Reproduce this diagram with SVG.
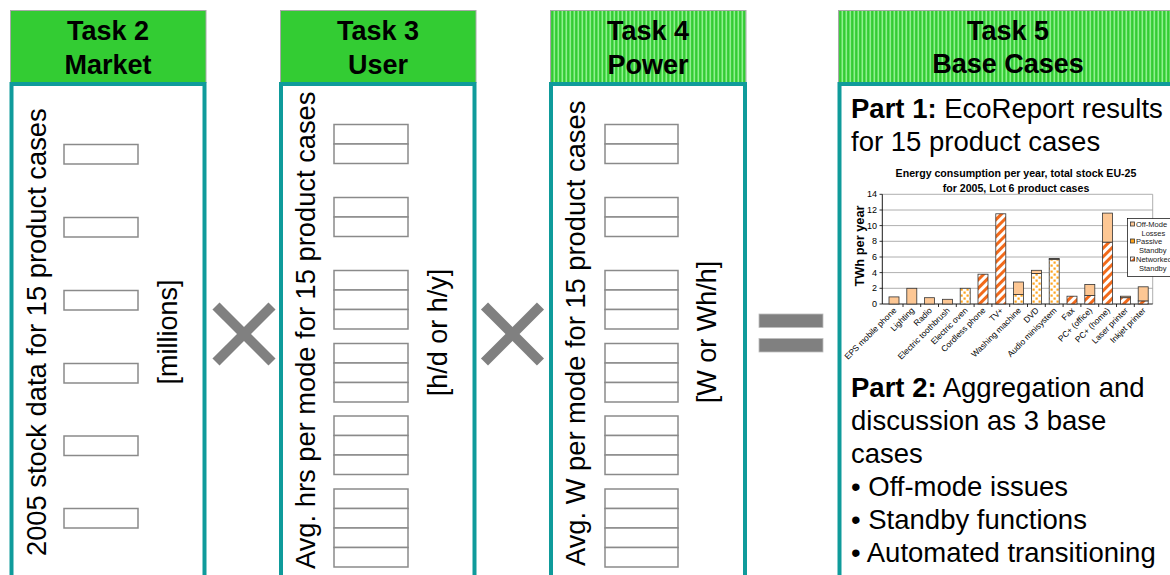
<svg xmlns="http://www.w3.org/2000/svg" width="1170" height="575" viewBox="0 0 1170 575">
<style>
.hdr{stroke:#a8a8a8;stroke-width:1}
.hsolid{fill:#33cc33}
.hstr{fill:url(#hstripe)}
.htxt{font-family:"Liberation Sans",Arial,sans-serif;font-weight:bold;font-size:27px;fill:#000;text-anchor:middle}
.body{fill:#fff;stroke:#0f9b9b;stroke-width:4}
.vtxt{font-family:"Liberation Sans",Arial,sans-serif;font-size:27.3px;fill:#000}
.unit{font-family:"Liberation Sans",Arial,sans-serif;font-size:27px;fill:#000;text-anchor:middle}
.cell{fill:#fff;stroke:#8a8a8a;stroke-width:1.5}
.op{stroke:#808080;stroke-width:10;fill:none}
.p5{font-family:"Liberation Sans",Arial,sans-serif;font-size:27.5px;fill:#000}
.ct{font-family:"Liberation Sans",Arial,sans-serif;font-size:10.6px;font-weight:bold;fill:#000;text-anchor:middle}
.ax{font-family:"Liberation Sans",Arial,sans-serif;font-size:9px;fill:#000;text-anchor:end}
.cat{font-family:"Liberation Sans",Arial,sans-serif;font-size:8.4px;fill:#000;text-anchor:end}
.lg{font-family:"Liberation Sans",Arial,sans-serif;font-size:7.5px;fill:#222}
.grid{stroke:#9a9a9a;stroke-width:0.8}
.bar{stroke:#333;stroke-width:0.8}
.off{fill:#fdc794}
.pas{fill:url(#dots)}
.net{fill:url(#stripe)}
</style>
<defs>
<pattern id="hstripe" width="4" height="10" patternUnits="userSpaceOnUse"><rect width="4" height="10" fill="#33cc33"/><rect x="1.5" width="1.6" height="10" fill="#8ff08f"/></pattern>
<pattern id="stripe" width="6" height="6" patternUnits="userSpaceOnUse" patternTransform="rotate(45)"><rect width="6" height="6" fill="#fff"/><rect width="3" height="6" fill="#f26a1b"/></pattern>
<pattern id="dots" width="6" height="6" patternUnits="userSpaceOnUse"><rect width="6" height="6" fill="#fff"/><rect x="0.5" y="0.5" width="2.2" height="2.2" fill="#ffa41c"/><rect x="3.5" y="3.5" width="2.2" height="2.2" fill="#ffa41c"/></pattern>
</defs>
<rect width="1170" height="575" fill="#fff"/>

<g id="task2">
<rect class="hdr hsolid" x="10.5" y="10.5" width="195.5" height="72"/>
<text class="htxt" x="108" y="40">Task 2</text>
<text class="htxt" x="108" y="74">Market</text>
<rect class="body" x="11.5" y="84" width="193" height="520"/>
<text class="vtxt" transform="translate(45.5,556) rotate(-90)" font-size="28.8">2005 stock data for 15 product cases</text>
<text class="unit" transform="translate(177,332) rotate(-90)">[millions]</text>
<rect class="cell" x="64" y="144.5" width="74" height="19.5"/>
<rect class="cell" x="64" y="217.5" width="74" height="19.5"/>
<rect class="cell" x="64" y="290.5" width="74" height="19.5"/>
<rect class="cell" x="64" y="363.5" width="74" height="19.5"/>
<rect class="cell" x="64" y="436" width="74" height="19.5"/>
<rect class="cell" x="64" y="508.5" width="74" height="19.5"/>
</g>

<g id="task3">
<rect class="hdr hsolid" x="280.5" y="10.5" width="195.5" height="72"/>
<text class="htxt" x="378" y="40">Task 3</text>
<text class="htxt" x="378" y="74">User</text>
<rect class="body" x="281" y="84" width="193.5" height="520"/>
<text class="vtxt" transform="translate(315,569) rotate(-90)">Avg. hrs per mode for 15 product cases</text>
<text class="unit" transform="translate(447,332.5) rotate(-90)">[h/d or h/y]</text>
<g>
<rect class="cell" x="334" y="124.5" width="74" height="19.5"/><rect class="cell" x="334" y="144" width="74" height="19.5"/>
<rect class="cell" x="334" y="197.5" width="74" height="19.5"/><rect class="cell" x="334" y="217" width="74" height="19.5"/>
<rect class="cell" x="334" y="270.5" width="74" height="19.5"/><rect class="cell" x="334" y="290" width="74" height="19.5"/><rect class="cell" x="334" y="309.5" width="74" height="19.5"/>
<rect class="cell" x="334" y="343.5" width="74" height="19.5"/><rect class="cell" x="334" y="363" width="74" height="19.5"/><rect class="cell" x="334" y="382.5" width="74" height="19.5"/>
<rect class="cell" x="334" y="416" width="74" height="19.5"/><rect class="cell" x="334" y="435.5" width="74" height="19.5"/><rect class="cell" x="334" y="455" width="74" height="19.5"/>
<rect class="cell" x="334" y="489" width="74" height="19.5"/><rect class="cell" x="334" y="508.5" width="74" height="19.5"/><rect class="cell" x="334" y="528" width="74" height="19.5"/><rect class="cell" x="334" y="547.5" width="74" height="19.5"/>
</g>
</g>

<g id="task4">
<rect class="hdr hstr" x="550.5" y="10.5" width="195.5" height="72"/>
<text class="htxt" x="648" y="40">Task 4</text>
<text class="htxt" x="648" y="74">Power</text>
<rect class="body" x="551" y="84" width="194" height="520"/>
<text class="vtxt" transform="translate(585,566) rotate(-90)" font-size="27.8">Avg. W per mode for 15 product cases</text>
<text class="unit" transform="translate(716,332) rotate(-90)">[W or Wh/h]</text>
<g>
<rect class="cell" x="605" y="124.5" width="73" height="19.5"/><rect class="cell" x="605" y="144" width="73" height="19.5"/>
<rect class="cell" x="605" y="197.5" width="73" height="19.5"/><rect class="cell" x="605" y="217" width="73" height="19.5"/>
<rect class="cell" x="605" y="270.5" width="73" height="19.5"/><rect class="cell" x="605" y="290" width="73" height="19.5"/><rect class="cell" x="605" y="309.5" width="73" height="19.5"/>
<rect class="cell" x="605" y="343.5" width="73" height="19.5"/><rect class="cell" x="605" y="363" width="73" height="19.5"/><rect class="cell" x="605" y="382.5" width="73" height="19.5"/>
<rect class="cell" x="605" y="416" width="73" height="19.5"/><rect class="cell" x="605" y="435.5" width="73" height="19.5"/><rect class="cell" x="605" y="455" width="73" height="19.5"/>
<rect class="cell" x="605" y="489" width="73" height="19.5"/><rect class="cell" x="605" y="508.5" width="73" height="19.5"/><rect class="cell" x="605" y="528" width="73" height="19.5"/><rect class="cell" x="605" y="547.5" width="73" height="19.5"/>
</g>
</g>

<g id="task5">
<rect class="hdr hstr" x="838.5" y="10.5" width="340" height="72"/>
<text class="htxt" x="1008" y="40">Task 5</text>
<text class="htxt" x="1008" y="73">Base Cases</text>
<rect class="body" x="839.5" y="84" width="340" height="520"/>
<text class="p5" x="851" y="118"><tspan font-weight="bold">Part 1:</tspan> EcoReport results</text>
<text class="p5" x="851" y="151">for 15 product cases</text>
<g id="chart">
<text class="ct" x="1016" y="177">Energy consumption per year, total stock EU-25</text>
<text class="ct" x="1016" y="192">for 2005, Lot 6 product cases</text>
<line class="grid" x1="882.3" y1="288.3" x2="1152.7" y2="288.3"/>
<line class="grid" x1="882.3" y1="272.6" x2="1152.7" y2="272.6"/>
<line class="grid" x1="882.3" y1="257" x2="1152.7" y2="257"/>
<line class="grid" x1="882.3" y1="241.3" x2="1152.7" y2="241.3"/>
<line class="grid" x1="882.3" y1="225.6" x2="1152.7" y2="225.6"/>
<line class="grid" x1="882.3" y1="210" x2="1152.7" y2="210"/>
<line class="grid" x1="882.3" y1="194.3" x2="1152.7" y2="194.3"/>
<line class="grid" x1="1152.7" y1="194.3" x2="1152.7" y2="304"/>
<line x1="882.3" y1="194.3" x2="882.3" y2="304" stroke="#000" stroke-width="0.9"/>
<line x1="882.3" y1="304" x2="1152.7" y2="304" stroke="#000" stroke-width="0.9"/>
<g stroke="#000" stroke-width="0.8">
<line x1="879.5" y1="304" x2="882.3" y2="304"/><line x1="879.5" y1="288.3" x2="882.3" y2="288.3"/><line x1="879.5" y1="272.6" x2="882.3" y2="272.6"/><line x1="879.5" y1="257" x2="882.3" y2="257"/><line x1="879.5" y1="241.3" x2="882.3" y2="241.3"/><line x1="879.5" y1="225.6" x2="882.3" y2="225.6"/><line x1="879.5" y1="210" x2="882.3" y2="210"/><line x1="879.5" y1="194.3" x2="882.3" y2="194.3"/>
<line x1="903" y1="304" x2="903" y2="307"/><line x1="920.7" y1="304" x2="920.7" y2="307"/><line x1="938.5" y1="304" x2="938.5" y2="307"/><line x1="956.3" y1="304" x2="956.3" y2="307"/><line x1="974.1" y1="304" x2="974.1" y2="307"/><line x1="991.9" y1="304" x2="991.9" y2="307"/><line x1="1009.7" y1="304" x2="1009.7" y2="307"/><line x1="1027.5" y1="304" x2="1027.5" y2="307"/><line x1="1045.3" y1="304" x2="1045.3" y2="307"/><line x1="1063.1" y1="304" x2="1063.1" y2="307"/><line x1="1080.9" y1="304" x2="1080.9" y2="307"/><line x1="1098.7" y1="304" x2="1098.7" y2="307"/><line x1="1116.5" y1="304" x2="1116.5" y2="307"/><line x1="1134.3" y1="304" x2="1134.3" y2="307"/>
</g>
<text class="ax" x="877" y="307">0</text>
<text class="ax" x="877" y="291.3">2</text>
<text class="ax" x="877" y="275.6">4</text>
<text class="ax" x="877" y="260">6</text>
<text class="ax" x="877" y="244.3">8</text>
<text class="ax" x="877" y="228.6">10</text>
<text class="ax" x="877" y="213">12</text>
<text class="ax" x="877" y="197.3">14</text>
<text transform="translate(863.5,246) rotate(-90)" font-family="Liberation Sans, Arial, sans-serif" font-size="12.8" font-weight="bold" text-anchor="middle">TWh per year</text>
<g id="bars">
<rect class="bar off" x="889" y="296.9" width="10" height="7.1"/>
<rect class="bar off" x="906.8" y="288.3" width="10" height="15.7"/>
<rect class="bar off" x="924.6" y="297.7" width="10" height="6.3"/>
<rect class="bar off" x="942.4" y="299.3" width="10" height="4.7"/>
<rect class="bar pas" x="960.2" y="288.3" width="10" height="15.7"/>
<rect class="bar net" x="978" y="274.2" width="10" height="29.8"/>
<rect class="bar net" x="995.8" y="213.8" width="10" height="90.2"/>
<rect class="bar pas" x="1013.6" y="294.6" width="10" height="9.4"/>
<rect class="bar off" x="1013.6" y="282" width="10" height="12.6"/>
<rect class="bar pas" x="1031.4" y="273.4" width="10" height="30.6"/>
<rect class="bar off" x="1031.4" y="270.3" width="10" height="3.1"/>
<rect class="bar pas" x="1049.2" y="259.3" width="10" height="44.7"/>
<rect class="bar off" x="1049.2" y="258.5" width="10" height="0.8"/>
<rect class="bar net" x="1067" y="296.2" width="10" height="7.8"/>
<rect class="bar net" x="1084.8" y="295.4" width="10" height="8.6"/>
<rect class="bar off" x="1084.8" y="284.4" width="10" height="11"/>
<rect class="bar net" x="1102.6" y="242.1" width="10" height="61.9"/>
<rect class="bar off" x="1102.6" y="213.1" width="10" height="29"/>
<rect class="bar net" x="1120.4" y="297.7" width="10" height="6.3"/>
<rect class="bar off" x="1120.4" y="296.2" width="10" height="1.5"/>
<rect class="bar net" x="1138.2" y="300.9" width="10" height="3.1"/>
<rect class="bar off" x="1138.2" y="286.8" width="10" height="14.1"/>
</g>
<g id="cats">
<text class="cat" transform="translate(897,311) rotate(-45)">EPS mobile phone</text>
<text class="cat" transform="translate(914.8,311) rotate(-45)">Lighting</text>
<text class="cat" transform="translate(932.6,311) rotate(-45)">Radio</text>
<text class="cat" transform="translate(950.4,311) rotate(-45)">Electric toothbrush</text>
<text class="cat" transform="translate(968.2,311) rotate(-45)">Electric oven</text>
<text class="cat" transform="translate(986,311) rotate(-45)">Cordless phone</text>
<text class="cat" transform="translate(1003.8,311) rotate(-45)">TV+</text>
<text class="cat" transform="translate(1021.6,311) rotate(-45)">Washing machine</text>
<text class="cat" transform="translate(1039.4,311) rotate(-45)">DVD</text>
<text class="cat" transform="translate(1057.2,311) rotate(-45)">Audio minisystem</text>
<text class="cat" transform="translate(1075,311) rotate(-45)">Fax</text>
<text class="cat" transform="translate(1092.8,311) rotate(-45)">PC+ (office)</text>
<text class="cat" transform="translate(1110.6,311) rotate(-45)">PC+ (home)</text>
<text class="cat" transform="translate(1128.4,311) rotate(-45)">Laser printer</text>
<text class="cat" transform="translate(1146.2,311) rotate(-45)">Inkjet printer</text>
</g>
<g id="legend">
<rect x="1127.5" y="218.5" width="50" height="58" fill="#fff" stroke="#000" stroke-width="0.7"/>
<rect class="bar off" x="1130.5" y="222" width="4" height="4"/>
<text class="lg" x="1136" y="227">Off-Mode</text>
<text class="lg" x="1141.5" y="235.5">Losses</text>
<rect class="bar" x="1130.5" y="239" width="4" height="4" fill="#ffa41c"/>
<text class="lg" x="1136" y="244">Passive</text>
<text class="lg" x="1139" y="252.5">Standby</text>
<rect class="bar net" x="1130.5" y="257" width="4" height="4"/>
<text class="lg" x="1136" y="262">Networked</text>
<text class="lg" x="1139" y="271">Standby</text>
</g>
</g>
<text class="p5" x="851" y="397"><tspan font-weight="bold">Part 2:</tspan> Aggregation and</text>
<text class="p5" x="851" y="430">discussion as 3 base</text>
<text class="p5" x="851" y="463">cases</text>
<text class="p5" x="851" y="496">• Off-mode issues</text>
<text class="p5" x="851" y="529">• Standby functions</text>
<text class="p5" x="851" y="562">• Automated transitioning</text>
</g>

<g id="connectors">
<g id="times1"><line class="op" x1="216" y1="306" x2="272" y2="362"/><line class="op" x1="272" y1="306" x2="216" y2="362"/></g>
<g id="times2"><line class="op" x1="484.5" y1="306" x2="540.5" y2="362"/><line class="op" x1="540.5" y1="306" x2="484.5" y2="362"/></g>
<g id="equals"><rect x="759" y="314" width="64" height="13.5" fill="#808080" stroke="#bdbdbd" stroke-width="0.8"/><rect x="759" y="338.5" width="64" height="13.5" fill="#808080" stroke="#bdbdbd" stroke-width="0.8"/></g>
</g>
</svg>
